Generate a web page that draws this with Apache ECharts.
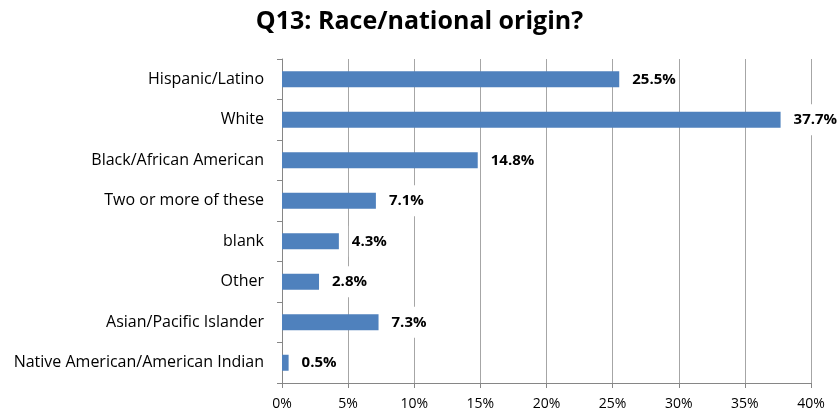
<!DOCTYPE html>
<html>
<head>
<meta charset="utf-8">
<script src="https://cdn.jsdelivr.net/npm/echarts@6/dist/echarts.min.js"></script>
<style>
  html, body { margin: 0; padding: 0; background: #fff; }
  #chart { width: 839px; height: 416px; }
</style>
</head>
<body>
<div id="chart"></div>
<script>
// 数据
const categories = [
  'Hispanic/Latino',
  'White',
  'Black/African American',
  'Two or more of these',
  'blank',
  'Other',
  'Asian/Pacific Islander',
  'Native American/American Indian'
]
const percents = [25.5, 37.7, 14.8, 7.1, 4.3, 2.8, 7.3, 0.5]
const titleText = 'Q13: Race/national origin?'

const font = '"Open Sans", "Liberation Sans", Arial, sans-serif'

const myChart = echarts.init(document.getElementById('chart'))
const option = {
  animation: false,
  title: {
    text: titleText,
    left: 'center',
    top: 4,
    textStyle: {
      fontFamily: font,
      fontSize: 25,
      fontWeight: 'bold',
      color: '#000'
    }
  },
  grid: {
    left: 282,
    right: 28,
    top: 59,
    bottom: 33
  },
  xAxis: {
    type: 'value',
    min: 0,
    max: 40,
    interval: 5,
    axisLine: { show: true, lineStyle: { color: '#868686' } },
    axisTick: { show: true, length: 5, lineStyle: { color: '#868686' } },
    axisLabel: {
      formatter: '{value}%',
      fontFamily: font,
      fontSize: 14,
      color: '#000',
      margin: 14
    },
    splitLine: { lineStyle: { color: '#a6a6a6' } }
  },
  yAxis: {
    type: 'category',
    inverse: true,
    data: categories,
    axisLine: { show: true, lineStyle: { color: '#868686' } },
    axisTick: { show: true, length: 5, lineStyle: { color: '#868686' } },
    axisLabel: {
      fontFamily: font,
      fontSize: 16,
      color: '#000',
      margin: 18
    },
    splitLine: { show: false }
  },
  series: [
    {
      type: 'bar',
      data: percents,
      barWidth: 16,
      itemStyle: { color: '#4f81bd' },
      label: {
        show: true,
        position: 'right',
        distance: 10,
        formatter: p => p.value.toFixed(1) + '%',
        fontFamily: font,
        fontSize: 15,
        fontWeight: 'bold',
        color: '#000',
        backgroundColor: '#fff',
        padding: [8, 3]
      }
    }
  ]
}
myChart.setOption(option)
</script>
</body>
</html>
